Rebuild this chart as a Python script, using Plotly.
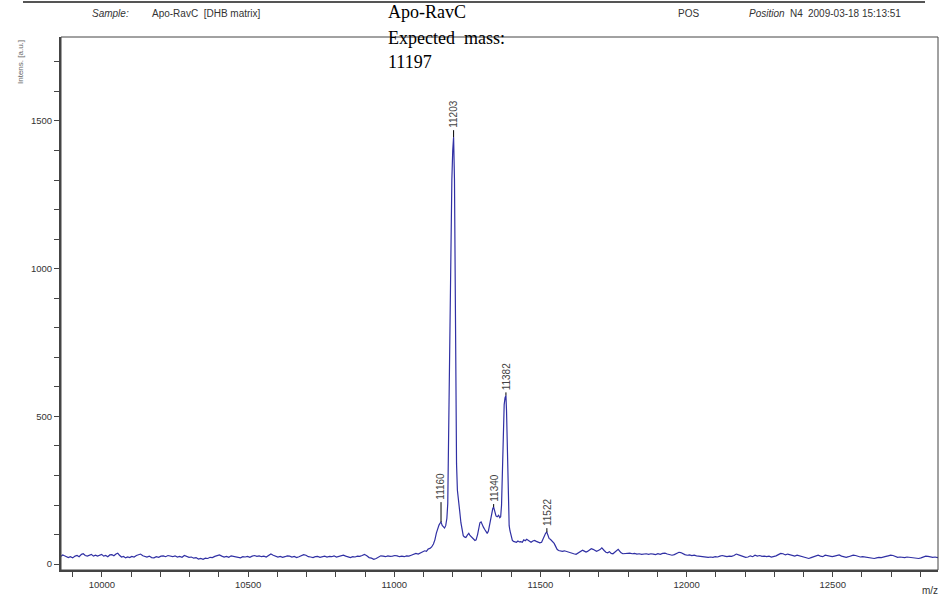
import plotly.graph_objects as go

# ---- spectrum data ----
# baseline left of the peaks
mz_left = [9860, 9866, 9872, 9878, 9885, 9892, 9900, 9908, 9915, 9922, 9930, 9936, 9943, 9950,
           9957, 9964, 9971, 9978, 9985, 9992, 9999, 10006, 10013, 10020, 10027, 10034, 10041,
           10048, 10054, 10060, 10067, 10074, 10081, 10088, 10095, 10102, 10110, 10118, 10125,
           10132, 10140, 10147, 10154, 10162, 10170, 10178, 10186, 10194, 10202, 10210, 10218,
           10226, 10234, 10242, 10250, 10258, 10266, 10274, 10282, 10290, 10298, 10306, 10314,
           10322, 10330, 10338, 10346, 10354, 10362, 10370, 10378, 10386, 10394, 10402, 10410,
           10418, 10426, 10434, 10442, 10450, 10458, 10466, 10474, 10482, 10490, 10498, 10506,
           10514, 10522, 10530, 10538, 10546, 10554, 10562, 10570, 10578, 10586, 10594, 10602,
           10610, 10618, 10626, 10634, 10642, 10650, 10658, 10666, 10674, 10682, 10690, 10698,
           10706, 10714, 10722, 10730, 10738, 10746, 10754, 10762, 10770, 10778, 10786, 10794,
           10802, 10810, 10818, 10826, 10834, 10842, 10850, 10858, 10866, 10874, 10882, 10890,
           10898, 10906, 10914, 10922, 10930, 10938, 10946, 10954, 10962, 10970, 10978, 10986,
           10994, 11002, 11010, 11018, 11026, 11034, 11042, 11050, 11058, 11066, 11074, 11082,
           11090, 11097, 11104, 11110, 11116, 11122, 11128, 11134, 11139, 11144, 11149]
int_left = [26, 31, 28, 24, 22, 25, 21, 27, 29, 25, 33, 35, 29, 27,
            31, 33, 27, 30, 27, 31, 33, 27, 29, 25, 31, 32, 28,
            34, 37, 30, 24, 26, 21, 24, 22, 26, 24, 29, 31,
            34, 28, 26, 24, 27, 22, 21, 25, 23, 27, 28, 25,
            29, 27, 25, 28, 24, 26, 23, 29, 26, 23, 24, 20,
            22, 17, 19, 16, 20, 19, 23, 22, 26, 28, 31, 27,
            24, 26, 23, 28, 26, 24, 22, 21, 25, 24, 26, 23,
            27, 29, 26, 28, 25, 27, 24, 29, 34, 30, 27, 24,
            26, 23, 25, 28, 27, 24, 26, 22, 25, 28, 32, 30,
            25, 24, 22, 25, 26, 23, 25, 27, 24, 26, 25, 28,
            24, 26, 28, 30, 27, 24, 22, 25, 24, 27, 26, 29,
            33, 28, 22, 20, 16, 19, 24, 28, 27, 25, 28, 26,
            27, 29, 28, 25, 27, 25, 28, 27, 30, 32, 36, 34,
            38, 42, 45, 43, 51, 53, 58, 68, 82, 105, 122]

# peak cluster
mz_peaks = [11153, 11157, 11160, 11164, 11168, 11172, 11176, 11180, 11183, 11188, 11192, 11197,
            11200, 11203, 11206, 11209, 11213, 11216, 11220, 11224, 11228, 11232, 11236, 11240,
            11245, 11250, 11255, 11259, 11263, 11268, 11272, 11276, 11280, 11285, 11289, 11293,
            11297, 11301, 11305, 11309, 11314, 11318, 11322, 11326, 11330, 11334, 11337, 11340,
            11344, 11348, 11352, 11357, 11361, 11364, 11367, 11370, 11373, 11376, 11379, 11382,
            11384, 11386, 11388, 11390, 11393, 11396, 11400, 11404, 11408, 11413, 11418, 11423,
            11428, 11433, 11438, 11443, 11448, 11453, 11458, 11463, 11468, 11474, 11480, 11486,
            11492, 11498, 11504, 11510, 11514, 11518, 11522, 11526, 11530, 11534, 11538, 11542,
            11547, 11552, 11557]
int_peaks = [132, 139, 142, 131, 124, 122, 130, 155, 205, 610, 1040, 1300,
             1400, 1445, 1300, 860, 340, 250, 200, 178, 140, 108, 96, 92,
             90, 98, 104, 97, 92, 88, 84, 80, 82, 100, 122, 140,
             143, 132, 125, 118, 110, 104, 112, 135, 150, 180, 188, 193,
             178, 163, 160, 165, 157, 160, 200, 330, 470, 540, 563, 571,
             520, 409, 300, 165, 130, 112, 90, 80, 77, 76, 74, 78,
             75, 76, 74, 82, 79, 84, 80, 77, 74, 78, 80, 77,
             74, 72, 74, 88, 98, 105, 108, 95, 86, 84, 80, 74,
             70, 60, 50]

# tail right of the peaks
mz_right = [11562, 11568, 11575, 11582, 11590, 11598, 11606, 11614, 11622, 11630, 11638, 11644,
            11650, 11656, 11661, 11668, 11674, 11680, 11686, 11692, 11698, 11704, 11710, 11714,
            11718, 11724, 11730, 11736, 11742, 11748, 11755, 11760, 11766, 11771, 11776, 11782,
            11790, 11798, 11806, 11814, 11822, 11830, 11838, 11846, 11854, 11862, 11870, 11878,
            11886, 11894, 11902, 11910, 11918, 11926, 11934, 11942, 11950, 11958, 11966, 11974,
            11980, 11986, 11994, 12002, 12010, 12018, 12026, 12034, 12042, 12050, 12058, 12066,
            12074, 12082, 12090, 12098, 12106, 12114, 12122, 12130, 12138, 12146, 12154, 12162,
            12170, 12178, 12186, 12194, 12202, 12210, 12218, 12226, 12234, 12242, 12250, 12258,
            12266, 12274, 12282, 12290, 12298, 12306, 12314, 12322, 12330, 12338, 12346, 12354,
            12362, 12370, 12378, 12386, 12394, 12402, 12410, 12418, 12426, 12434, 12442, 12450,
            12458, 12466, 12474, 12482, 12490, 12498, 12506, 12514, 12522, 12530, 12538, 12546,
            12554, 12562, 12570, 12578, 12586, 12594, 12602, 12610, 12618, 12626, 12634, 12642,
            12650, 12658, 12666, 12674, 12682, 12690, 12698, 12706, 12714, 12722, 12730, 12738,
            12746, 12754, 12762, 12770, 12778, 12786, 12794, 12802, 12810, 12818, 12826, 12834,
            12842, 12850, 12858, 12866]
int_right = [46, 44, 43, 45, 42, 40, 37, 35, 33, 38, 44, 47,
             44, 41, 43, 48, 52, 50, 46, 43, 46, 49, 55, 52,
             46, 40, 38, 42, 36, 35, 40, 46, 50, 44, 38, 35,
             36, 35, 37, 35, 36, 34, 35, 33, 34, 35, 33, 35,
             34, 32, 35, 33, 36, 37, 34, 31, 30, 32, 36, 40,
             39, 35, 32, 30, 31, 29, 30, 28, 27, 24, 23, 24,
             23, 24, 23, 25, 24, 27, 29, 27, 25, 27, 26, 29,
             34, 31, 29, 25, 23, 24, 28, 25, 30, 27, 29, 26,
             27, 25, 27, 24, 25, 28, 32, 36, 35, 31, 34, 32,
             29, 27, 30, 28, 26, 24, 21, 19, 22, 24, 28, 30,
             27, 25, 30, 28, 26, 25, 27, 29, 31, 27, 25, 23,
             25, 28, 30, 29, 26, 24, 25, 24, 22, 21, 20, 19,
             21, 23, 22, 23, 26, 28, 30, 29, 25, 23, 24, 23,
             22, 24, 23, 24, 22, 20, 19, 21, 24, 27, 26, 24,
             23, 24, 22, 25]

mz = mz_left + mz_peaks + mz_right
intensity = int_left + int_peaks + int_right

peak_mz = [11160, 11203, 11340, 11382, 11522]
peak_int = [142, 1445, 193, 571, 108]
peak_lead = [20, 7, 3, 3, 4]   # leader length in px above the peak

x_ticks = [10000, 10500, 11000, 11500, 12000, 12500]
y_ticks = [0, 500, 1000, 1500]

FONT = "Liberation Sans"
TXT = "#333333"

L, R, T, B = 61, 938, 37, 570
W, H = R - L, B - T
Y0, Y1 = -20, 1784
PX_PER_UNIT_Y = H / (Y1 - Y0)

fig = go.Figure()
fig.add_trace(go.Scatter(x=mz, y=intensity, mode="lines",
                         line=dict(color="#3030A4", width=1.2), hoverinfo="skip",
                         showlegend=False))


def xp(px):
    return (px - L) / W


def yp(py):
    return (B - py) / H


anns = []
shapes = []
for m, v, ld in zip(peak_mz, peak_int, peak_lead):
    top = v + ld / PX_PER_UNIT_Y
    anns.append(dict(x=m, y=top, xref="x", yref="y", text=str(m), textangle=-90,
                     showarrow=False, xanchor="center", yanchor="bottom",
                     font=dict(family=FONT, size=10, color="#444444")))
    shapes.append(dict(type="line", xref="x", yref="y", x0=m, x1=m, y0=v, y1=top,
                       line=dict(color="#000000", width=1)))

# header texts
hdr = dict(family=FONT, size=10, color=TXT)
anns += [
    dict(x=xp(90), y=yp(14), text="<i>Sample:</i>", xanchor="left", yanchor="middle", font=hdr),
    dict(x=xp(150), y=yp(14), text="Apo-RavC  [DHB matrix]", xanchor="left", yanchor="middle", font=hdr),
    dict(x=xp(676), y=yp(14), text="POS", xanchor="left", yanchor="middle", font=hdr),
    dict(x=xp(747), y=yp(14), text="<i>Position</i>", xanchor="left", yanchor="middle", font=hdr),
    dict(x=xp(788), y=yp(14), text="N4", xanchor="left", yanchor="middle", font=hdr),
    dict(x=xp(806), y=yp(14), text="2009-03-18 15:13:51", xanchor="left", yanchor="middle", font=hdr),
]
big = dict(family="Liberation Serif", size=18, color="#000000")
anns += [
    dict(x=xp(386), y=yp(12), text="Apo-RavC", xanchor="left", yanchor="middle", font=big),
    dict(x=xp(386), y=yp(38), text="Expected&nbsp;&nbsp;mass:", xanchor="left", yanchor="middle", font=big),
    dict(x=xp(386), y=yp(62), text="11197", xanchor="left", yanchor="middle", font=big),
]
# axis titles
anns += [
    dict(x=xp(20), y=yp(38), text="Intens. [a.u.]", textangle=-90, xanchor="center", yanchor="top",
         font=dict(family=FONT, size=8, color="#666666")),
    dict(x=xp(930), y=yp(590), text="m/z", xanchor="center", yanchor="middle",
         font=dict(family=FONT, size=10, color=TXT)),
]
for a in anns:
    a.setdefault("xref", "paper")
    a.setdefault("yref", "paper")
    a.setdefault("showarrow", False)

shapes += [
    dict(type="line", xref="paper", yref="paper", x0=xp(23), x1=xp(925), y0=yp(2), y1=yp(2),
         line=dict(color="#555555", width=2)),
    dict(type="rect", xref="paper", yref="paper", x0=0, x1=1, y0=0, y1=1,
         line=dict(color="#444444", width=1)),
]

axcommon = dict(showgrid=False, zeroline=False, showline=True, linecolor="#444444", linewidth=2,
                ticks="outside", ticklen=5, tickcolor="#444444", tickwidth=1, automargin=False,
                tickfont=dict(family=FONT, size=9.5, color=TXT))
fig.update_layout(
    width=943, height=598,
    margin=dict(l=L, r=943 - R, t=T, b=598 - B),
    paper_bgcolor="white", plot_bgcolor="white",
    xaxis=dict(range=[9860, 12860], tickvals=x_ticks, ticktext=[str(v) for v in x_ticks],
               minor=dict(dtick=100, tick0=0, ticks="outside", ticklen=5, tickcolor="#444444"),
               **axcommon),
    yaxis=dict(range=[Y0, Y1], tickvals=y_ticks, ticktext=[str(v) for v in y_ticks],
               minor=dict(dtick=100, tick0=0, ticks="outside", ticklen=5, tickcolor="#444444"),
               **axcommon),
    annotations=anns, shapes=shapes, showlegend=False,
)
fig.write_html("out.html", config={"displayModeBar": False},
               post_script="document.body.style.margin='0px';")
